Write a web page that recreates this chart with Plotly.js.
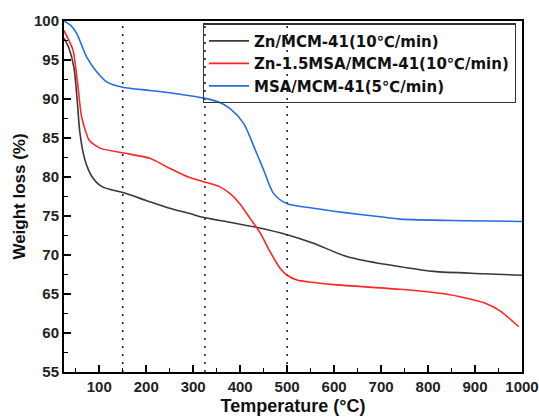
<!DOCTYPE html>
<html>
<head>
<meta charset="utf-8">
<script src="https://cdn.plot.ly/plotly-3.0.1.min.js"></script>
<style>html,body{margin:0;padding:0;background:#fff}#chart{width:539px;height:419px}</style>
</head>
<body>
<div id="chart"></div>
<script>
// Zn/MCM-41 (10 ℃/min)
const znTemp = [25, 35, 46, 53, 59, 69.5, 84, 105, 150, 200, 250, 300, 315, 378, 439, 500, 556, 627, 698, 741, 812, 918, 1000];
const znWeight = [97.8, 96.6, 94.1, 89.9, 85.6, 82.2, 80.1, 78.8, 78.0, 77.0, 76.0, 75.2, 74.9, 74.2, 73.5, 72.6, 71.5, 69.8, 68.9, 68.5, 67.9, 67.6, 67.4];
// Zn-1.5MSA/MCM-41 (10 ℃/min)
const znMsaTemp = [25, 44, 54, 62.5, 78.7, 101.5, 150, 208, 244, 290, 322, 355, 380, 400, 421, 442, 463, 485, 500, 521, 600, 741, 847, 918, 954, 993];
const znMsaWeight = [98.8, 96.3, 92.0, 87.7, 84.7, 83.7, 83.1, 82.4, 81.3, 80.0, 79.4, 78.8, 77.8, 76.5, 74.7, 72.9, 70.5, 68.3, 67.4, 66.8, 66.2, 65.6, 64.9, 63.9, 62.8, 60.8];
// MSA/MCM-41 (5 ℃/min)
const msaTemp = [25, 40, 52, 62, 73, 94.5, 116, 150, 208, 250, 315, 350, 378, 407, 432, 450, 471, 499, 556, 627, 698, 741, 883, 1000];
const msaWeight = [100, 99.4, 98.4, 97.0, 95.4, 93.5, 92.2, 91.5, 91.1, 90.8, 90.2, 89.7, 88.8, 86.9, 83.5, 80.9, 77.9, 76.6, 76.0, 75.4, 74.9, 74.6, 74.4, 74.3];

const seriesNames = ['Zn/MCM-41(10℃/min)', 'Zn-1.5MSA/MCM-41(10℃/min)', 'MSA/MCM-41(5℃/min)'];
const seriesColors = ['#383838', '#ff2626', '#1f6fe6'];
const markerTemps = [150, 325, 500];

const xTicks = [100, 200, 300, 400, 500, 600, 700, 800, 900, 1000];
const yTicks = [55, 60, 65, 70, 75, 80, 85, 90, 95, 100];

const xs = [znTemp, znMsaTemp, msaTemp];
const ys = [znWeight, znMsaWeight, msaWeight];
const smooth = [0.8, 0.6, 0.8];
const data = xs.map((x, i) => ({
  x: x, y: ys[i], type: 'scatter', mode: 'lines', name: seriesNames[i],
  line: {color: seriesColors[i], width: 1.6, shape: 'spline', smoothing: smooth[i]}
}));

const shapes = markerTemps.map(t => ({
  type: 'line', xref: 'x', yref: 'paper', x0: t, x1: t, y0: 0, y1: 1,
  line: {color: '#222', width: 1.6, dash: '2px,6px'}, layer: 'below'
}));

const fontFam = 'Arial, "Liberation Sans", "DejaVu Sans", sans-serif';
const axisCommon = {
  showline: true, linecolor: '#000', linewidth: 2, mirror: true,
  ticks: 'inside', ticklen: 7, tickwidth: 1.5, tickcolor: '#000',
  showgrid: false, zeroline: false,
  tickfont: {family: fontFam, size: 15, color: '#222', weight: 'bold'}
};

const layout = {
  width: 539, height: 419,
  margin: {l: 64, r: 17, t: 21, b: 47},
  paper_bgcolor: '#fff', plot_bgcolor: '#fff',
  font: {family: fontFam, color: '#222'},
  xaxis: Object.assign({}, axisCommon, {
    range: [25, 1000], tickvals: xTicks, ticktext: xTicks.map(String),
    minor: {dtick: 50, tick0: 0, ticks: 'inside', ticklen: 4, tickwidth: 1.5, tickcolor: '#000'},
    title: {text: '<b>Temperature (°C)</b>', font: {family: fontFam, size: 18, color: '#111'}, standoff: 5}
  }),
  yaxis: Object.assign({}, axisCommon, {
    range: [55, 100], tickvals: yTicks, ticktext: yTicks.map(String),
    minor: {dtick: 2.5, tick0: 0, ticks: 'inside', ticklen: 4, tickwidth: 1.5, tickcolor: '#000'},
    title: {text: '<b>Weight loss (%)</b>', font: {family: fontFam, size: 17, color: '#111'}, standoff: 4}
  }),
  showlegend: true,
  legend: {
    x: 0.303, y: 0.993, xanchor: 'left', yanchor: 'top',
    bgcolor: 'rgba(255,255,255,0)', bordercolor: '#333', borderwidth: 1.2,
    font: {family: '"DejaVu Sans", Arial, sans-serif', size: 15, color: '#111', weight: 'bold'},
    tracegroupgap: 0, itemwidth: 40
  },
  shapes: shapes
};

Plotly.newPlot('chart', data, layout, {staticPlot: true, displayModeBar: false});
</script>
</body>
</html>
